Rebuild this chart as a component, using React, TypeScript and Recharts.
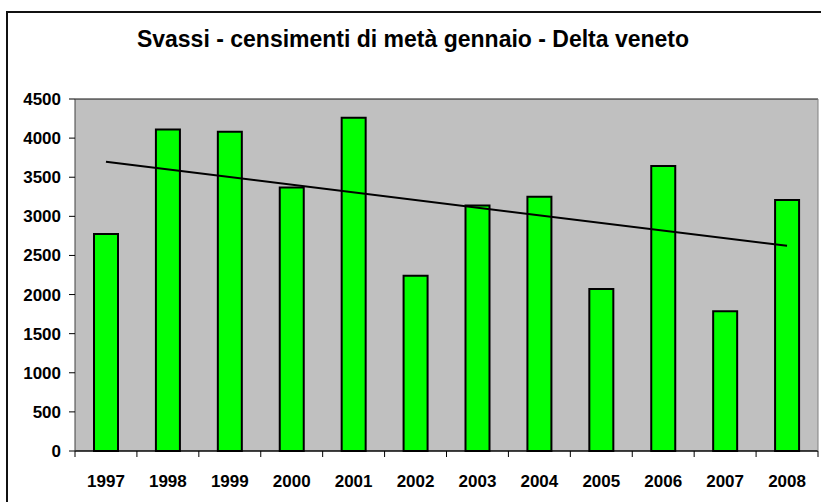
import React from 'react';
import {
  ComposedChart,
  Bar,
  Line,
  XAxis,
  YAxis,
  CartesianGrid,
} from 'recharts';

const years = ['1997', '1998', '1999', '2000', '2001', '2002', '2003', '2004', '2005', '2006', '2007', '2008'];
const counts = [2775, 4110, 4080, 3370, 4260, 2240, 3140, 3250, 2070, 3645, 1785, 3210];
const trendValues: (number | null)[] = [3697, null, null, null, null, null, null, null, null, null, null, 2623];
const yTicks = [0, 500, 1000, 1500, 2000, 2500, 3000, 3500, 4000, 4500];
const title = 'Svassi - censimenti di metà gennaio - Delta veneto';

const data = years.map((y, i) => ({ year: y, count: counts[i], trend: trendValues[i] }));

const FONT = '"Liberation Sans", Arial, sans-serif';

const XTick = (props: any) => {
  const { x, y, payload, index } = props;
  const off = payload && typeof payload.offset === 'number' ? payload.offset : 31;
  const isLast = index === years.length - 1;
  return (
    <g>
      <line x1={x - off} x2={x - off} y1={y} y2={y + 6} stroke="#000" strokeWidth={1} />
      {isLast && <line x1={x + off} x2={x + off} y1={y} y2={y + 6} stroke="#000" strokeWidth={1} />}
      <text
        x={x}
        y={y + 35.5}
        textAnchor="middle"
        fontFamily={FONT}
        fontWeight="bold"
        fontSize={17}
        fill="#000"
      >
        {payload.value}
      </text>
    </g>
  );
};

export default function App() {
  return (
    <div style={{ position: 'absolute', left: 0, top: 0, width: 821, height: 502, background: '#fff', overflow: 'hidden' }}>
      <div
        style={{
          position: 'absolute',
          left: 6,
          top: 11,
          width: 900,
          height: 600,
          borderLeft: '2px solid #111',
          borderTop: '2px solid #111',
        }}
      />
      <div
        style={{
          position: 'absolute',
          left: 0,
          top: 28,
          width: 826,
          textAlign: 'center',
          fontFamily: FONT,
          fontWeight: 'bold',
          fontSize: 23,
          lineHeight: '23px',
          color: '#000',
          whiteSpace: 'nowrap',
        }}
      >
        {title}
      </div>
      <div style={{ position: 'absolute', left: 0, top: 0 }}>
        <ComposedChart
          width={821}
          height={502}
          data={data}
          margin={{ top: 99, right: 0, bottom: 1, left: 0 }}
          barCategoryGap="0%"
        >
          <CartesianGrid
            horizontal={true}
            vertical={false}
            fill="#C0C0C0"
            stroke="#111"
            strokeWidth={1}
            fillOpacity={1}
          />
          <XAxis
            dataKey="year"
            height={50}
            tickSize={0}
            tickMargin={0}
            tickLine={false}
            axisLine={{ stroke: '#000', strokeWidth: 1 }}
            tick={<XTick />}
            interval={0}
          />
          <YAxis
            yAxisId="left"
            width={75}
            domain={[0, 4500]}
            ticks={yTicks}
            interval={0}
            tickSize={6}
            tickMargin={8}
            axisLine={{ stroke: '#404040', strokeWidth: 1 }}
            tickLine={{ stroke: '#000', strokeWidth: 1 }}
            tick={{ fontFamily: FONT, fontWeight: 'bold', fontSize: 17, fill: '#000' }}
          />
          <YAxis
            yAxisId="right"
            orientation="right"
            width={3}
            domain={[0, 4500]}
            tick={false}
            tickLine={false}
            axisLine={{ stroke: '#808080', strokeWidth: 1 }}
          />
          <Bar
            yAxisId="left"
            dataKey="count"
            barSize={24}
            fill="#00FF00"
            stroke="#000"
            strokeWidth={2}
            isAnimationActive={false}
          />
          <Line
            yAxisId="left"
            dataKey="trend"
            stroke="#000"
            strokeWidth={2}
            dot={false}
            activeDot={false}
            connectNulls={true}
            isAnimationActive={false}
            type="linear"
          />
        </ComposedChart>
      </div>
    </div>
  );
}
